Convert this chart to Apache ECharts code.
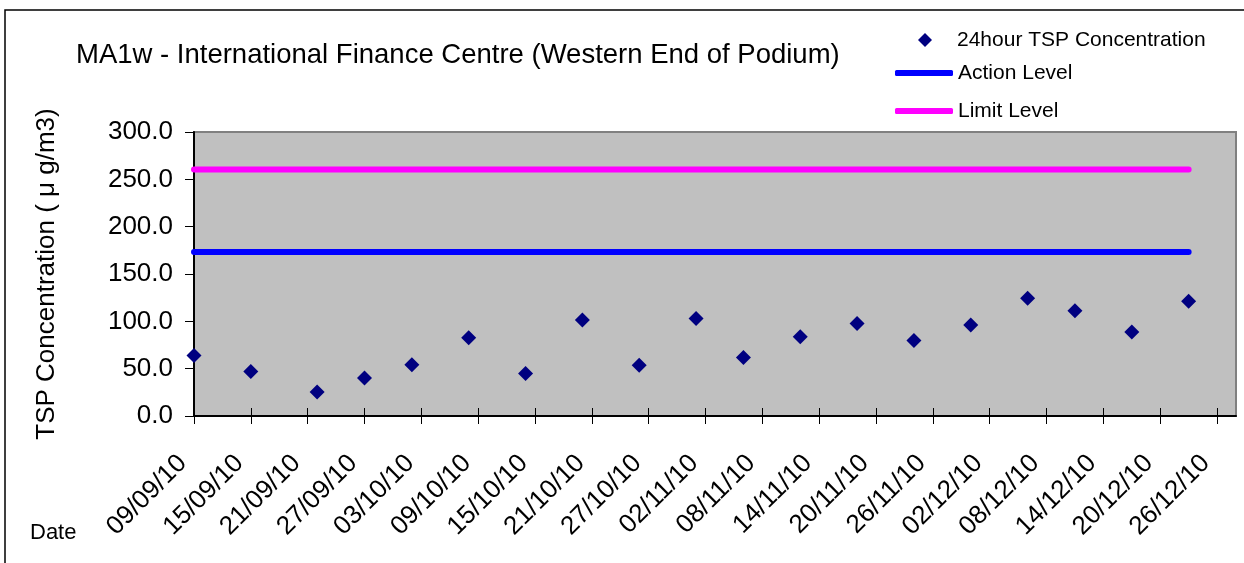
<!DOCTYPE html>
<html>
  <meta charset="UTF-8">
  <title>MA1w - TSP</title>
  <style type="text/css">
    html,body{margin:0px;height:100%;width:100%;background:#fff}
    .container{width:1244px;height:563px}
  </style>
  <script type="text/javascript" src="https://cdn.jsdelivr.net/npm/echarts@6/dist/echarts.min.js"></script>
  <body>
    <div id="chart" class="container"></div>

    <script>
      // sample dates and 24-hour TSP readings (ug/m3)
      var sampleDates = ['09/09/10', '15/09/10', '22/09/10', '27/09/10', '02/10/10', '08/10/10', '14/10/10',
        '20/10/10', '26/10/10', '01/11/10', '06/11/10', '12/11/10', '18/11/10', '24/11/10', '30/11/10',
        '06/12/10', '11/12/10', '17/12/10', '23/12/10'];
      var tspValues = [64.0, 47.1, 25.3, 40.1, 54.1, 82.6, 45.0, 101.3, 53.5, 103.0, 61.9, 83.7, 97.8, 79.8,
        96.0, 124.4, 111.1, 88.8, 121.3];
      var actionLevel = 173.3;
      var limitLevel = 260.3;

      var tickLabels = ['09/09/10', '15/09/10', '21/09/10', '27/09/10', '03/10/10', '09/10/10', '15/10/10',
        '21/10/10', '27/10/10', '02/11/10', '08/11/10', '14/11/10', '20/11/10', '26/11/10', '02/12/10',
        '08/12/10', '14/12/10', '20/12/10', '26/12/10'];

      var FONT = 'Liberation Sans, Arial, sans-serif';

      // days since first tick
      function toDay(s) {
        var p = s.split('/');
        var t = Date.UTC(2000 + (+p[2]), +p[1] - 1, +p[0]);
        var p0 = tickLabels[0].split('/');
        var t0 = Date.UTC(2000 + (+p0[2]), +p0[1] - 1, +p0[0]);
        return Math.round((t - t0) / 86400000);
      }
      var tickDays = tickLabels.map(toDay);
      var labelByDay = {};
      tickDays.forEach(function (d, i) { labelByDay[d] = tickLabels[i]; });
      var sampleDays = sampleDates.map(toDay);

      var chart = echarts.init(document.getElementById('chart'));
      chart.setOption({
        animation: false,
        title: {
          text: 'MA1w - International Finance Centre (Western End of Podium)',
          left: 71, top: 35,
          textStyle: { fontFamily: FONT, fontSize: 27.5, fontWeight: 'normal', color: '#000', lineHeight: 30 }
        },
        legend: [
          { data: [{ name: '24hour TSP Concentration', icon: 'diamond' }], left: 913, top: 23, itemWidth: 14, itemHeight: 14,
            textStyle: { fontFamily: FONT, fontSize: 21, color: '#000', lineHeight: 24, padding: [0, 0, 0, 20] } },
          { data: ['Action Level'], left: 890, top: 56, itemWidth: 58, itemHeight: 6, icon: 'roundRect',
            textStyle: { fontFamily: FONT, fontSize: 21, color: '#000', lineHeight: 24 } },
          { data: ['Limit Level'], left: 890, top: 94, itemWidth: 58, itemHeight: 6, icon: 'roundRect',
            textStyle: { fontFamily: FONT, fontSize: 21, color: '#000', lineHeight: 24 } }
        ],
        grid: {
          left: 194, top: 132, right: 8, bottom: 147,
          show: true, backgroundColor: '#c0c0c0', borderColor: '#808080', borderWidth: 2
        },
        xAxis: [
          {
            type: 'value', min: 0, max: 110, position: 'bottom',
            axisLine: { lineStyle: { color: '#000', width: 2 } },
            axisTick: { customValues: tickDays, length: 8, lineStyle: { color: '#000' } },
            axisLabel: {
              customValues: tickDays, rotate: 45, margin: 32, padding: [0, 16, 0, 0],
              fontFamily: FONT, fontSize: 26, color: '#000',
              formatter: function (v) { return labelByDay[v] || ''; }
            },
            splitLine: { show: false }
          },
          {
            type: 'value', min: 0, max: 110, position: 'bottom', offset: 0,
            axisLine: { show: false },
            axisTick: { customValues: tickDays, inside: true, length: 8, lineStyle: { color: '#000' } },
            axisLabel: { show: false },
            splitLine: { show: false }
          }
        ],
        yAxis: {
          type: 'value', min: 0, max: 300, interval: 50,
          name: 'TSP Concentration ( \u03bc g/m3)',
          nameLocation: 'middle', nameGap: 134,
          nameTextStyle: { fontFamily: FONT, fontSize: 26, color: '#000' },
          axisLine: { show: true, lineStyle: { color: '#000', width: 2 } },
          axisTick: { show: true, length: 9, lineStyle: { color: '#000' } },
          axisLabel: {
            margin: 21, fontFamily: FONT, fontSize: 26, color: '#000',
            formatter: function (v) { return v.toFixed(1); }
          },
          splitLine: { show: false }
        },
        graphic: [
          { type: 'rect', shape: { x: 5, y: 10, width: 1400, height: 800 },
            style: { fill: 'none', stroke: '#000', lineWidth: 1.5 }, silent: true },
          { type: 'text', left: 30, top: 522,
            style: { text: 'Date', font: '22px ' + FONT, fill: '#000' } }
        ],
        series: [
          {
            name: '24hour TSP Concentration', type: 'scatter', xAxisIndex: 0,
            symbol: 'diamond', symbolSize: 15,
            itemStyle: { color: '#000080', opacity: 1 },
            data: sampleDays.map(function (d, i) { return [d, tspValues[i]]; }),
            z: 5
          },
          {
            name: 'Action Level', type: 'line', xAxisIndex: 0, showSymbol: false, symbol: 'none',
            lineStyle: { color: '#0000ff', width: 6, cap: 'round' }, itemStyle: { color: '#0000ff' },
            data: sampleDays.map(function (d) { return [d, actionLevel]; })
          },
          {
            name: 'Limit Level', type: 'line', xAxisIndex: 0, showSymbol: false, symbol: 'none',
            lineStyle: { color: '#ff00ff', width: 6, cap: 'round' }, itemStyle: { color: '#ff00ff' },
            data: sampleDays.map(function (d) { return [d, limitLevel]; })
          }
        ]
      });
    </script>
  </body>
</html>
